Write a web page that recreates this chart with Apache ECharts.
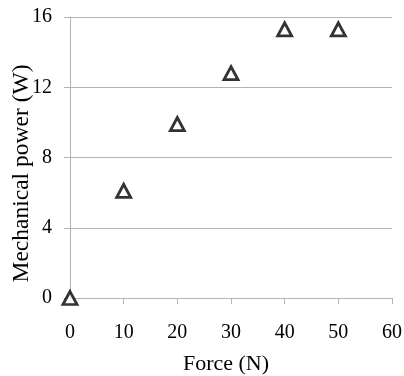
<!DOCTYPE html>
<html>
<head>
<meta charset="utf-8">
<script src="https://cdn.jsdelivr.net/npm/echarts@6/dist/echarts.min.js"></script>
<style>
  html, body { margin: 0; padding: 0; background: #fff; }
  #main { width: 404px; height: 376px; }
</style>
</head>
<body>
<div id="main"></div>
<script>
// 数据
var forceN = [0, 10, 20, 30, 40, 50]
var powerW = [0, 6.1, 9.9, 12.8, 15.3, 15.3]

var chart = echarts.init(document.getElementById('main'))

var points = forceN.map(function (f, i) { return [f, powerW[i]] })

var font = 'Liberation Serif'
var gray = '#b3b3b3'

var option = {
    animation: false,
    backgroundColor: '#fff',
    grid: { left: 70, right: 12, top: 17, bottom: 78, containLabel: false, outerBoundsMode: 'none' },
    xAxis: {
        type: 'value',
        min: 0, max: 60, interval: 10,
        name: 'Force (N)',
        nameLocation: 'middle',
        nameGap: 55,
        nameMoveOverlap: false,
        nameTextStyle: { fontFamily: font, fontSize: 22, color: '#000', padding: [0, 10, 0, 0] },
        axisLine: { show: true, lineStyle: { color: gray, width: 1 } },
        axisTick: { show: true, length: 6, lineStyle: { color: gray } },
        axisLabel: { fontFamily: font, fontSize: 20, color: '#000', margin: 25 },
        splitLine: { show: false }
    },
    yAxis: {
        type: 'value',
        min: 0, max: 16, interval: 4,
        name: 'Mechanical power (W)',
        nameLocation: 'middle',
        nameGap: 36,
        nameMoveOverlap: false,
        nameTextStyle: { fontFamily: font, fontSize: 23.5, color: '#000', padding: [0, 32, 0, 0] },
        axisLine: { show: true, lineStyle: { color: gray, width: 1 } },
        axisTick: { show: true, length: 6, lineStyle: { color: gray } },
        axisLabel: { fontFamily: font, fontSize: 20, color: '#000', margin: 18 },
        splitLine: { show: true, lineStyle: { color: gray, width: 1 } }
    },
    series: [{
        type: 'scatter',
        data: points,
        symbol: 'triangle',
        symbolSize: [14, 13],
        itemStyle: { color: '#fff', borderColor: '#000', borderWidth: 2.8 },
        z: 10
    }]
}

chart.setOption(option)
</script>
</body>
</html>
